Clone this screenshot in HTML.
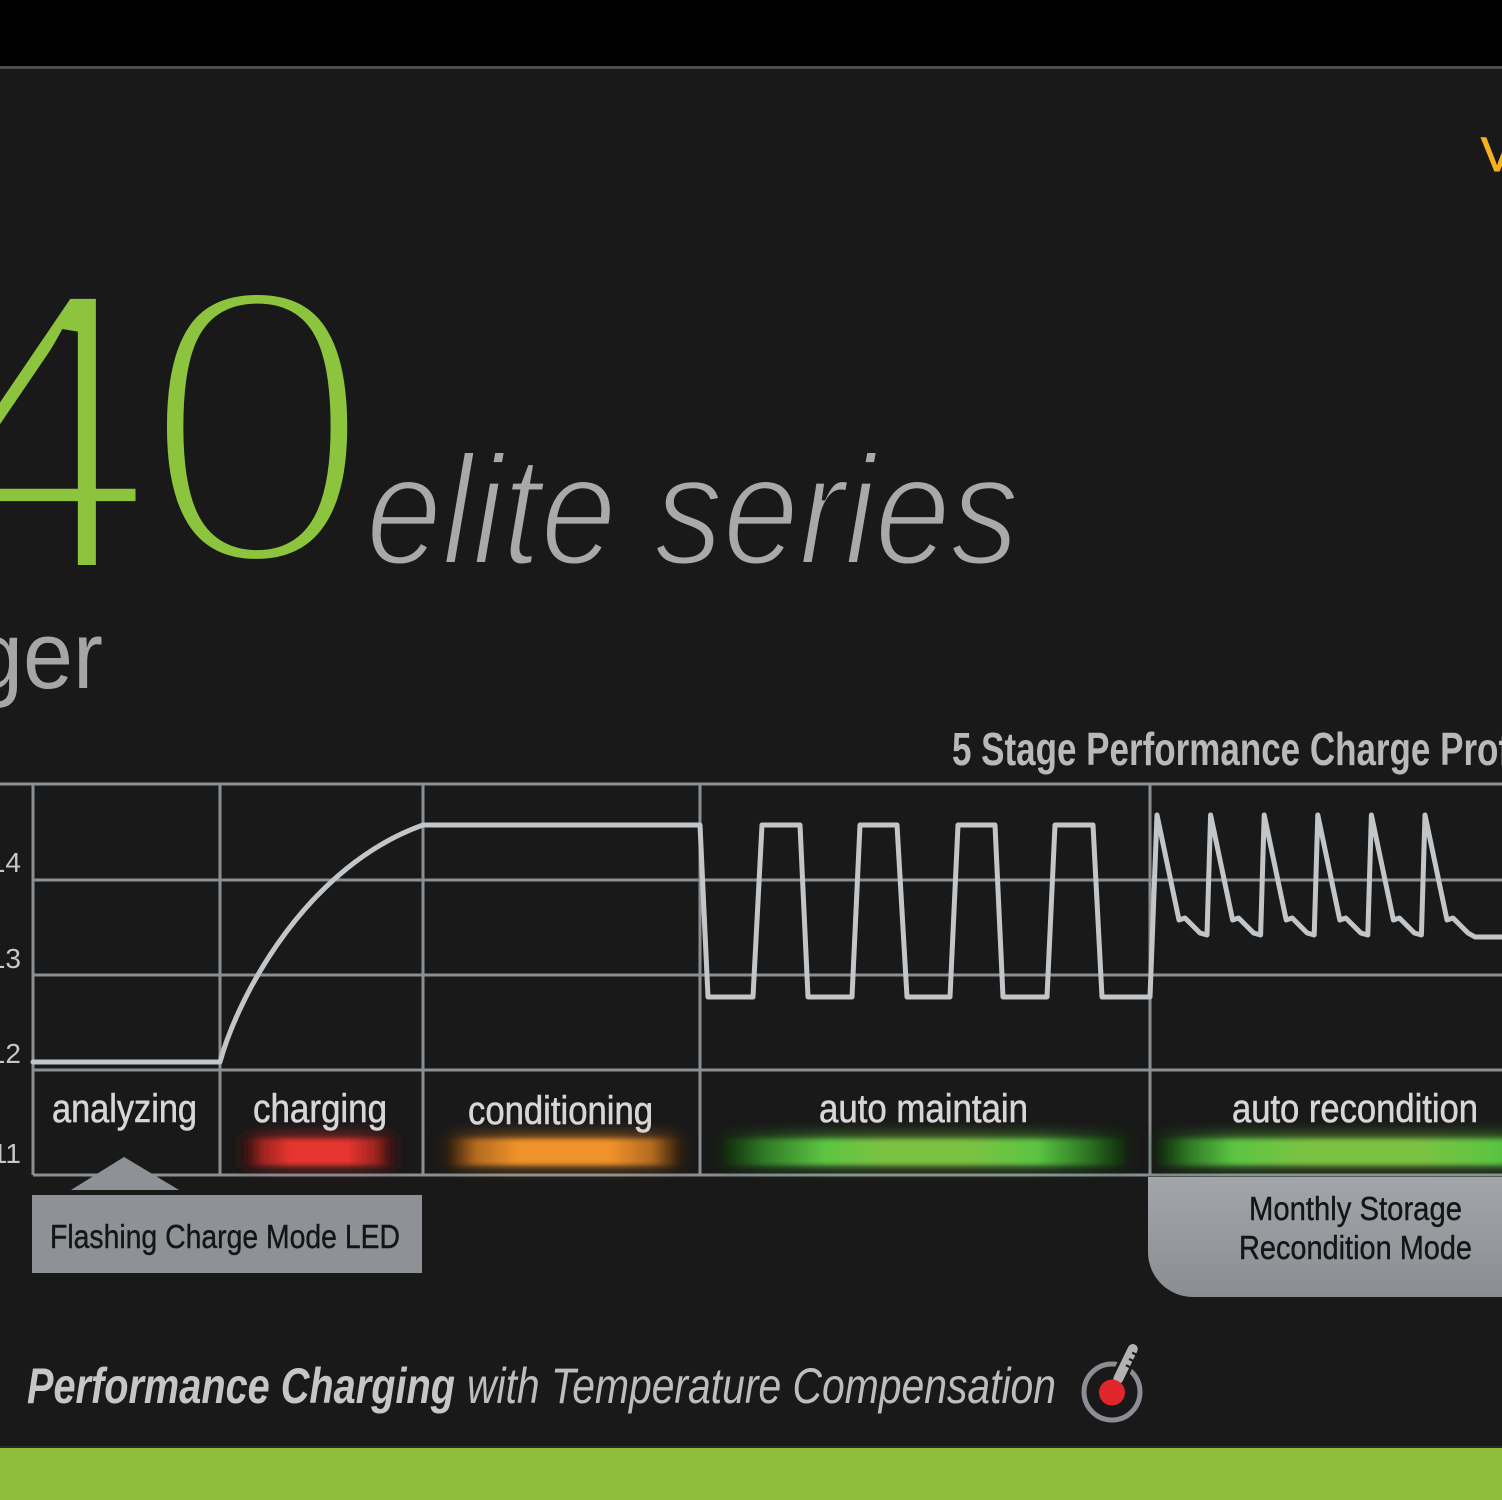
<!DOCTYPE html>
<html>
<head>
<meta charset="utf-8">
<style>
  html,body{margin:0;padding:0;background:#191919;overflow:hidden;}
  svg{display:block;}
</style>
</head>
<body>
<svg width="1502" height="1500" viewBox="0 0 1502 1500" xmlns="http://www.w3.org/2000/svg">
  <defs>
    <filter id="b2" x="-20%" y="-150%" width="140%" height="400%"><feGaussianBlur stdDeviation="2.5"/></filter>
    <filter id="b8" x="-30%" y="-200%" width="160%" height="500%"><feGaussianBlur stdDeviation="7"/></filter>
    <linearGradient id="gRed" x1="0" x2="1" y1="0" y2="0">
      <stop offset="0" stop-color="#2a100e"/>
      <stop offset="0.12" stop-color="#9e2420"/>
      <stop offset="0.3" stop-color="#e5342e"/>
      <stop offset="0.7" stop-color="#e5342e"/>
      <stop offset="0.88" stop-color="#9e2420"/>
      <stop offset="1" stop-color="#2a100e"/>
    </linearGradient>
    <linearGradient id="gOr" x1="0" x2="1" y1="0" y2="0">
      <stop offset="0" stop-color="#2e1c0a"/>
      <stop offset="0.12" stop-color="#b36a1f"/>
      <stop offset="0.3" stop-color="#f0922c"/>
      <stop offset="0.7" stop-color="#f0922c"/>
      <stop offset="0.88" stop-color="#b36a1f"/>
      <stop offset="1" stop-color="#2e1c0a"/>
    </linearGradient>
    <linearGradient id="gGr" x1="0" x2="1" y1="0" y2="0">
      <stop offset="0" stop-color="#102a0c"/>
      <stop offset="0.1" stop-color="#2f7a25"/>
      <stop offset="0.25" stop-color="#5cc443"/>
      <stop offset="0.4" stop-color="#7cc242"/>
      <stop offset="0.6" stop-color="#7cc242"/>
      <stop offset="0.78" stop-color="#5cc443"/>
      <stop offset="0.9" stop-color="#2f7a25"/>
      <stop offset="1" stop-color="#102a0c"/>
    </linearGradient>
    <linearGradient id="gGr2" x1="0" x2="1" y1="0" y2="0">
      <stop offset="0" stop-color="#102a0c"/>
      <stop offset="0.08" stop-color="#2f7a25"/>
      <stop offset="0.2" stop-color="#5cc443"/>
      <stop offset="0.4" stop-color="#7cc242"/>
      <stop offset="0.7" stop-color="#7cc242"/>
      <stop offset="0.9" stop-color="#5cc443"/>
      <stop offset="1" stop-color="#4cb03a"/>
    </linearGradient>
    <linearGradient id="gBox" x1="0" x2="0" y1="0" y2="1">
      <stop offset="0" stop-color="#a2a5aa"/>
      <stop offset="1" stop-color="#8a8e93"/>
    </linearGradient>
  </defs>

  <!-- backgrounds -->
  <rect x="0" y="0" width="1502" height="1500" fill="#191919"/>
  <rect x="0" y="0" width="1502" height="66" fill="#000"/>
  <rect x="0" y="66" width="1502" height="3" fill="#4d4d4d"/>
  <rect x="0" y="1446" width="1502" height="2" fill="#2a2a2a"/>
  <rect x="0" y="1448" width="1502" height="52" fill="#8fbe3d"/>

  <!-- top-right V -->
  <text x="1481" y="171" font-family="'Liberation Sans',sans-serif" font-size="48" fill="#f5b21c" stroke="#f5b21c" stroke-width="1">V</text>

  <!-- big 40 -->
  <text x="-72.5" y="573" font-family="'Liberation Sans',sans-serif" font-size="410" fill="#8cc43e" stroke="#191919" stroke-width="16">4</text>
  <text transform="translate(140,565) scale(1.05,1)" x="0" y="0" font-family="'Liberation Sans',sans-serif" font-size="401" fill="#8cc43e" stroke="#191919" stroke-width="20">0</text>

  <!-- elite series -->
  <text x="366" y="564" font-family="'Liberation Sans',sans-serif" font-style="italic" font-size="156" fill="#a9a9a9" stroke="#191919" stroke-width="4" textLength="653" lengthAdjust="spacingAndGlyphs">elite series</text>

  <!-- ger -->
  <text x="-27" y="688" font-family="'Liberation Sans Narrow','Liberation Sans',sans-serif" font-size="96" fill="#a6a6a6" textLength="130" lengthAdjust="spacingAndGlyphs">ger</text>

  <!-- chart title -->
  <text x="952" y="765" font-family="'Liberation Sans Narrow','Liberation Sans',sans-serif" font-weight="bold" font-size="46" fill="#b9b9b9" textLength="597" lengthAdjust="spacingAndGlyphs">5 Stage Performance Charge Profile</text>

  <!-- grid -->
  <g stroke="#8a8f94" stroke-width="3" fill="none">
    <line x1="0" y1="784" x2="1502" y2="784"/>
    <line x1="33" y1="880" x2="1502" y2="880"/>
    <line x1="33" y1="975" x2="1502" y2="975"/>
    <line x1="33" y1="1070" x2="1502" y2="1070"/>
    <line x1="33" y1="1175" x2="1502" y2="1175"/>
    <line x1="33" y1="784" x2="33" y2="1175"/>
    <line x1="220" y1="784" x2="220" y2="1175"/>
    <line x1="423" y1="784" x2="423" y2="1175"/>
    <line x1="700" y1="784" x2="700" y2="1175"/>
    <line x1="1150" y1="784" x2="1150" y2="1175"/>
  </g>

  <!-- y labels -->
  <g font-family="'Liberation Sans Narrow','Liberation Sans',sans-serif" font-size="28" fill="#c8c8c8" text-anchor="end">
    <text x="21" y="872">14</text>
    <text x="21" y="968">13</text>
    <text x="21" y="1063">12</text>
    <text x="21" y="1163">11</text>
  </g>

  <!-- data line -->
  <path fill="none" stroke="#c3c6c9" stroke-width="5" stroke-linejoin="round" stroke-linecap="round"
    d="M33,1062 H220 C240,990 310,865 423,825 H700 L708,997 H753 L762,825 H800 L808,997 H852 L860,825 H897 L907,997 H950 L958,825 H995 L1003,997 H1047 L1055,825 H1093 L1102,997 H1150 L1157,815
       L1179,920 L1185,918 L1200,933 L1207,935 L1210.6,815
       L1232.6,920 L1238.6,918 L1253.6,933 L1260.6,935 L1264.2,815
       L1286.2,920 L1292.2,918 L1307.2,933 L1314.2,935 L1317.8,815
       L1339.8,920 L1345.8,918 L1360.8,933 L1367.8,935 L1371.4,815
       L1393.4,920 L1399.4,918 L1414.4,933 L1421.4,935 L1425,815
       L1447,920 L1453,918 L1468,933 L1475,937 H1504"/>

  <!-- LED bars -->
  <rect x="240" y="1134" width="158" height="34" fill="url(#gRed)" filter="url(#b8)" opacity="0.55"/>
  <rect x="245" y="1139" width="148" height="26" fill="url(#gRed)" filter="url(#b2)"/>
  <rect x="444" y="1134" width="240" height="34" fill="url(#gOr)" filter="url(#b8)" opacity="0.55"/>
  <rect x="448" y="1139" width="232" height="26" fill="url(#gOr)" filter="url(#b2)"/>
  <rect x="720" y="1134" width="409" height="34" fill="url(#gGr)" filter="url(#b8)" opacity="0.55"/>
  <rect x="724" y="1139" width="401" height="26" fill="url(#gGr)" filter="url(#b2)"/>
  <rect x="1155" y="1134" width="380" height="34" fill="url(#gGr2)" filter="url(#b8)" opacity="0.55"/>
  <rect x="1159" y="1139" width="372" height="26" fill="url(#gGr2)" filter="url(#b2)"/>

  <!-- stage labels -->
  <g font-family="'Liberation Sans Narrow','Liberation Sans',sans-serif" font-size="40" fill="#d6d6d6" stroke="#d6d6d6" stroke-width="0.6">
    <text x="52" y="1122" textLength="145" lengthAdjust="spacingAndGlyphs">analyzing</text>
    <text x="253" y="1122" textLength="134" lengthAdjust="spacingAndGlyphs">charging</text>
    <text x="468" y="1124" textLength="185" lengthAdjust="spacingAndGlyphs">conditioning</text>
    <text x="819" y="1122" textLength="209" lengthAdjust="spacingAndGlyphs">auto maintain</text>
    <text x="1232" y="1122" textLength="246" lengthAdjust="spacingAndGlyphs">auto recondition</text>
  </g>

  <!-- flashing charge mode callout -->
  <polygon points="124,1157 71,1190 179,1190" fill="#8e9297"/>
  <rect x="32" y="1195" width="390" height="78" fill="#8e9297"/>
  <text x="50" y="1248" font-family="'Liberation Sans Narrow','Liberation Sans',sans-serif" font-size="33" fill="#151515" stroke="#151515" stroke-width="0.4" textLength="350" lengthAdjust="spacingAndGlyphs">Flashing Charge Mode LED</text>

  <!-- monthly storage box -->
  <path d="M1148,1177 H1510 V1297 H1193 A45,45 0 0 1 1148,1252 Z" fill="url(#gBox)"/>
  <text x="1249" y="1220" font-family="'Liberation Sans Narrow','Liberation Sans',sans-serif" font-size="33" fill="#151515" stroke="#151515" stroke-width="0.4" textLength="213" lengthAdjust="spacingAndGlyphs">Monthly Storage</text>
  <text x="1239" y="1259" font-family="'Liberation Sans Narrow','Liberation Sans',sans-serif" font-size="33" fill="#151515" stroke="#151515" stroke-width="0.4" textLength="233" lengthAdjust="spacingAndGlyphs">Recondition Mode</text>

  <!-- bottom tagline -->
  <text x="27" y="1403" font-family="'Liberation Sans Narrow','Liberation Sans',sans-serif" font-weight="bold" font-style="italic" font-size="50" fill="#c6c6c6" textLength="428" lengthAdjust="spacingAndGlyphs">Performance Charging</text>
  <text x="467" y="1403" font-family="'Liberation Sans Narrow','Liberation Sans',sans-serif" font-style="italic" font-size="50" fill="#bdbdbd" textLength="589" lengthAdjust="spacingAndGlyphs">with Temperature Compensation</text>

  <!-- thermometer icon -->
  <circle cx="1112" cy="1392" r="28" fill="none" stroke="#8b8f93" stroke-width="5"/>
  <g transform="rotate(26 1126 1363)">
    <rect x="1119.5" y="1341" width="13" height="46" rx="6.5" fill="#b3b3b3" stroke="#191919" stroke-width="3"/>
    <g stroke="#191919" stroke-width="2.2">
      <line x1="1127" y1="1351" x2="1134" y2="1351"/>
      <line x1="1127" y1="1358" x2="1134" y2="1358"/>
      <line x1="1127" y1="1365" x2="1134" y2="1365"/>
    </g>
  </g>
  <circle cx="1112" cy="1392.5" r="13" fill="#e0262a"/>
</svg>
</body>
</html>
